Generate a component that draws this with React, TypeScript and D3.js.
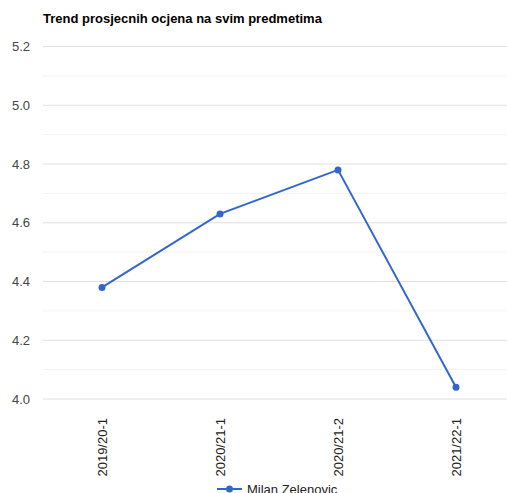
import React from "react";
import * as d3 from "d3";

const categories = ["2019/20-1", "2020/21-1", "2020/21-2", "2021/22-1"];
const values = [4.38, 4.63, 4.78, 4.04];
const seriesName = "Milan Zelenovic";
const title = "Trend prosjecnih ocjena na svim predmetima";
const yTicks = [4.0, 4.2, 4.4, 4.6, 4.8, 5.0, 5.2];
const yMinorTicks = [4.1, 4.3, 4.5, 4.7, 4.9, 5.1];

const W = 507;
const H = 493;
const FONT = "Arial, 'Liberation Sans', sans-serif";
const COLOR = "#3366cc";

export default function App() {
  const left = 43;
  const x = d3.scaleBand<string>().domain(categories).range([left, 515]);
  const y = d3.scaleLinear().domain([4.0, 5.2]).range([399, 46.5]);
  const cx = (c: string) => (x(c) as number) + x.bandwidth() / 2;
  const line = d3
    .line<number>()
    .x((_, i) => cx(categories[i]))
    .y((d) => y(d));

  return (
    <svg
      width={W}
      height={H}
      style={{ position: "absolute", left: 0, top: 0, background: "#fff" }}
      fontFamily={FONT}
    >
      <rect width={W} height={H} fill="#fff" />
      <text x={43} y={23} fontSize={13} fontWeight="bold" fill="#000">
        {title}
      </text>
      {yMinorTicks.map((t) => (
        <line key={"m" + t} x1={left} x2={W} y1={y(t)} y2={y(t)} stroke="#f2f2f2" strokeWidth={1} />
      ))}
      {yTicks.map((t) => (
        <g key={t}>
          <line x1={left} x2={W} y1={y(t)} y2={y(t)} stroke="#e0e0e0" strokeWidth={1} />
          <text x={30} y={y(t)} dy="0.35em" textAnchor="end" fontSize={13} fill="#444">
            {t.toFixed(1)}
          </text>
        </g>
      ))}
      <path d={line(values) || ""} fill="none" stroke={COLOR} strokeWidth={2} />
      {values.map((v, i) => (
        <circle key={i} cx={cx(categories[i])} cy={y(v)} r={3.5} fill={COLOR} />
      ))}
      {categories.map((c) => (
        <text
          key={c}
          transform={`translate(${cx(c) + 4.5},418) rotate(-90)`}
          textAnchor="end"
          fontSize={13}
          fill="#222"
        >
          {c}
        </text>
      ))}
      <g>
        <line x1={217} x2={242} y1={489} y2={489} stroke={COLOR} strokeWidth={2} />
        <circle cx={229.5} cy={489} r={3.5} fill={COLOR} />
        <text x={247} y={489} dy="0.35em" fontSize={13} fill="#222">
          {seriesName}
        </text>
      </g>
    </svg>
  );
}
